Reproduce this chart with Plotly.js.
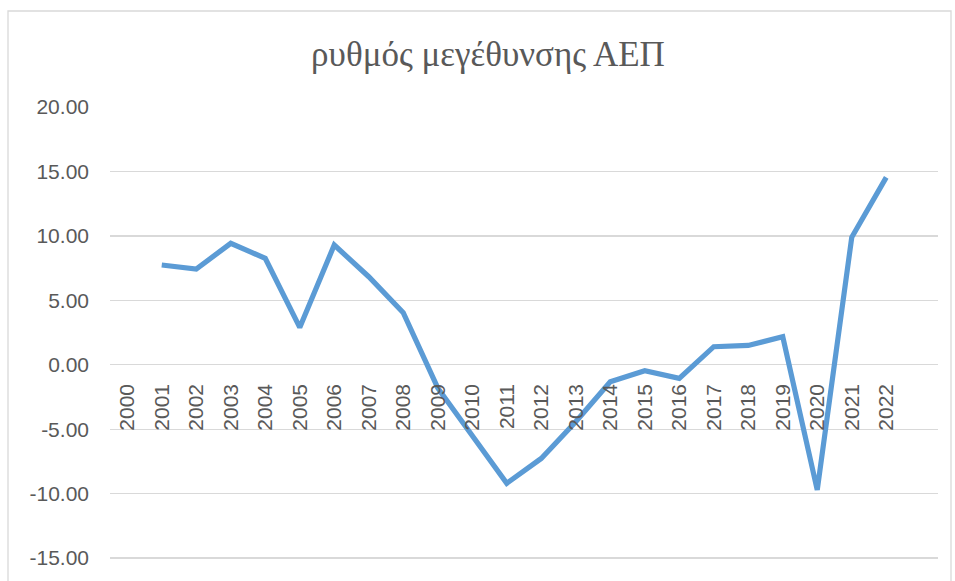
<!DOCTYPE html>
<html>
<head>
<meta charset="utf-8">
<script src="https://cdn.plot.ly/plotly-3.0.1.min.js"></script>
<style>html,body{margin:0;padding:0;background:#fff;}#chart{width:955px;height:581px;}</style>
</head>
<body>
<div id="chart"></div>
<script>
const years = ["2000","2001","2002","2003","2004","2005","2006","2007","2008","2009","2010","2011","2012","2013","2014","2015","2016","2017","2018","2019","2020","2021","2022"];
const growth = [null, 7.74, 7.43, 9.42, 8.26, 2.90, 9.29, 6.83, 4.04, -1.8, -5.5, -9.2, -7.27, -4.42, -1.32, -0.46, -1.06, 1.40, 1.50, 2.17, -9.72, 9.89, 14.54];
const yTicks = [-15, -10, -5, 0, 5, 10, 15, 20];
const chartTitle = "ρυθμός μεγέθυνσης ΑΕΠ";

const W = 955, H = 581;
const mL = 110, mR = 17, mT = 107, mB = 0;
const pw = W - mL - mR, ph = H - mT - mB;
const yMax = 20, yMin = -16.78;
const zeroPos = (0 - yMin) / (yMax - yMin);

const trace = {
  x: years, y: growth, type: 'scatter', mode: 'lines',
  line: {color: '#5B9BD5', width: 5.2},
  connectgaps: false, hoverinfo: 'x+y'
};

const layout = {
  width: W, height: H,
  margin: {l: mL, r: mR, t: mT, b: mB, pad: 0},
  paper_bgcolor: '#ffffff', plot_bgcolor: '#ffffff',
  showlegend: false,
  title: {
    text: chartTitle,
    font: {family: 'Liberation Serif, serif', size: 35, color: '#595959'},
    xref: 'container', yref: 'container',
    x: 488 / W, xanchor: 'center',
    y: 1 - 54 / H, yanchor: 'middle'
  },
  xaxis: {
    type: 'category', categoryorder: 'array', categoryarray: years,
    range: [-0.5, 23.5],
    anchor: 'free', position: zeroPos, side: 'bottom',
    tickangle: -90, showgrid: false, showline: false, zeroline: false,
    ticks: '', ticklabelstandoff: 14,
    tickfont: {family: 'Liberation Sans, sans-serif', size: 21, color: '#595959'}
  },
  yaxis: {
    range: [yMin, yMax], tickmode: 'array', tickvals: yTicks,
    ticktext: yTicks.map(v => v.toFixed(2)),
    showgrid: true, gridcolor: '#D9D9D9', gridwidth: 1.3,
    zeroline: false, showline: false, ticks: '', ticklabelstandoff: 20,
    tickfont: {family: 'Liberation Sans, sans-serif', size: 21, color: '#595959'}
  },
  shapes: [{
    type: 'rect', xref: 'paper', yref: 'paper', layer: 'below',
    x0: (8 - mL) / pw, x1: (951 - mL) / pw,
    y0: -0.2, y1: (H - mB - 11) / ph,
    line: {color: '#D9D9D9', width: 1.3}, fillcolor: 'rgba(0,0,0,0)'
  }]
};

Plotly.newPlot('chart', [trace], layout, {displayModeBar: false, staticPlot: true});
</script>
</body>
</html>
